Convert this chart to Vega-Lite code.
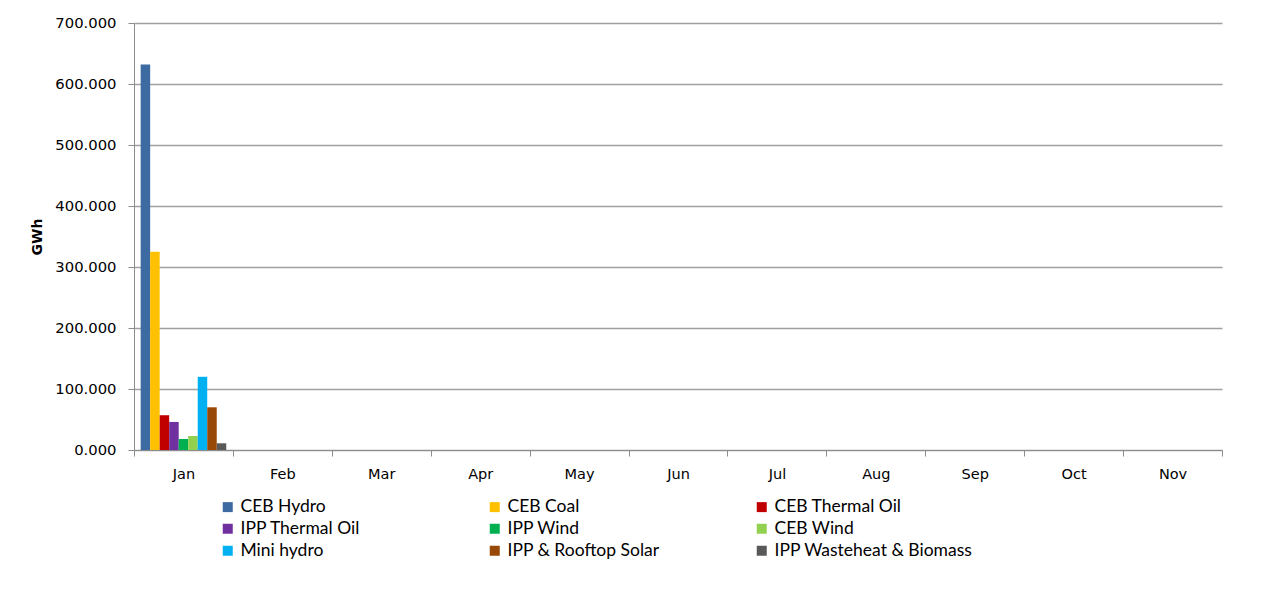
{
  "$schema": "https://vega.github.io/schema/vega-lite/v6.json",
  "width": 1088,
  "height": 427,
  "autosize": {"type": "none"},
  "padding": {"left": 134, "top": 23, "right": 58, "bottom": 151},
  "background": "white",
  "data": {
    "values": [
      {"month": "Jan", "source": "CEB Hydro", "gwh": 632},
      {"month": "Jan", "source": "CEB Coal", "gwh": 325},
      {"month": "Jan", "source": "CEB Thermal Oil", "gwh": 57},
      {"month": "Jan", "source": "IPP Thermal Oil", "gwh": 46},
      {"month": "Jan", "source": "IPP Wind", "gwh": 18},
      {"month": "Jan", "source": "CEB Wind", "gwh": 23},
      {"month": "Jan", "source": "Mini hydro", "gwh": 120},
      {"month": "Jan", "source": "IPP & Rooftop Solar", "gwh": 70},
      {"month": "Jan", "source": "IPP Wasteheat & Biomass", "gwh": 11}
    ]
  },
  "mark": {"type": "bar"},
  "encoding": {
    "x": {
      "field": "month",
      "type": "nominal",
      "scale": {"domain": ["Jan","Feb","Mar","Apr","May","Jun","Jul","Aug","Sep","Oct","Nov"], "paddingInner": 0, "paddingOuter": 0},
      "axis": {
        "title": null,
        "labelAngle": 0,
        "tickBand": "extent",
        "tickSize": 6,
        "tickColor": "#8C8C8C",
        "domainColor": "#8C8C8C",
        "labelPadding": 11,
        "labelFont": "DejaVu Sans",
        "labelFontSize": 14.5,
        "labelColor": "#000000",
        "grid": false
      }
    },
    "xOffset": {
      "field": "source",
      "type": "nominal",
      "sort": ["CEB Hydro","CEB Coal","CEB Thermal Oil","IPP Thermal Oil","IPP Wind","CEB Wind","Mini hydro","IPP & Rooftop Solar","IPP Wasteheat & Biomass"],
      "scale": {"paddingInner": 0, "paddingOuter": 0.7}
    },
    "y": {
      "field": "gwh",
      "type": "quantitative",
      "scale": {"domain": [0, 700], "nice": false},
      "axis": {
        "title": "GWh",
        "titleFont": "DejaVu Sans",
        "titleFontSize": 14,
        "titleFontWeight": "bold",
        "titleColor": "#000000",
        "titlePadding": 10,
        "values": [0,100,200,300,400,500,600,700],
        "format": ".3f",
        "labelFont": "DejaVu Sans",
        "labelFontSize": 14.8,
        "labelColor": "#000000",
        "labelPadding": 12,
        "tickSize": 6,
        "tickColor": "#8C8C8C",
        "domainColor": "#8C8C8C",
        "gridColor": "#A0A0A0",
        "gridWidth": 1.3
      }
    },
    "color": {
      "field": "source",
      "type": "nominal",
      "sort": ["CEB Hydro","CEB Coal","CEB Thermal Oil","IPP Thermal Oil","IPP Wind","CEB Wind","Mini hydro","IPP & Rooftop Solar","IPP Wasteheat & Biomass"],
      "scale": {
        "domain": ["CEB Hydro","CEB Coal","CEB Thermal Oil","IPP Thermal Oil","IPP Wind","CEB Wind","Mini hydro","IPP & Rooftop Solar","IPP Wasteheat & Biomass"],
        "range": ["#3D6AA0","#FFC000","#C00000","#7030A0","#00B050","#92D050","#00B0F0","#984807","#595959"]
      },
      "legend": {
        "title": null,
        "orient": "none",
        "legendX": 85,
        "legendY": 475,
        "direction": "horizontal",
        "columns": 3,
        "gridAlign": "all",
        "columnPadding": 47,
        "rowPadding": 3,
        "symbolType": "square",
        "symbolSize": 100,
        "symbolStrokeWidth": 0,
        "labelFont": "Lato",
        "labelFontSize": 17.5,
        "labelColor": "#000000",
        "labelOffset": 4,
        "labelLimit": 400,
        "padding": 0
      }
    }
  },
  "config": {"view": {"stroke": null}}
}
